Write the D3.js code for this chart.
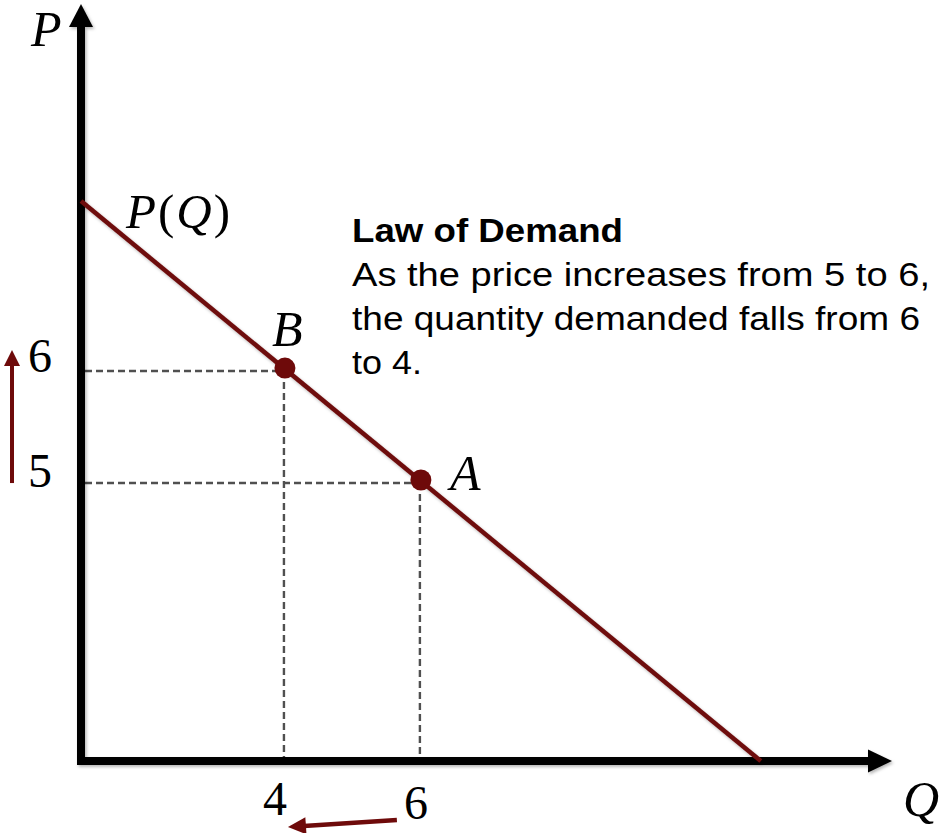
<!DOCTYPE html>
<html>
<head>
<meta charset="utf-8">
<script src="https://cdn.jsdelivr.net/npm/d3@7"></script>
<style>
  html, body { margin: 0; padding: 0; background: #fff; }
  svg { display: block; }
</style>
</head>
<body>
<script>
// ---------- DATA ----------
const demandQ = [1, 11];          // demand line endpoints (quantity)
const demandP = [7.5, 2.5];       // demand line endpoints (price)
const pointNames = ["B", "A"];
const pointQ = [4, 6];
const pointP = [6, 5];
const qTickLabels = ["4", "6"];
const qTickValues = [4, 6];
const pTickLabels = ["6", "5"];
const pTickValues = [6, 5];
const qExtent = [1, 12.93];       // axis extent (Q)
const pExtent = [2.5, 9.26];      // axis extent (P)
const noteTitle = "Law of Demand";
const noteLines = ["As the price increases from 5 to 6,", "the quantity demanded falls from 6", "to 4."];

// ---------- LAYOUT ----------
const W = 942, H = 833;
const red = "#6e0a0a";
const x = d3.scaleLinear().domain(qExtent).range([81, 892]);
const y = d3.scaleLinear().domain(pExtent).range([761, 4]);

const svg = d3.select("body").append("svg").attr("width", W).attr("height", H);
const defs = svg.append("defs");
const f = defs.append("filter").attr("id", "sh").attr("x", "-20%").attr("y", "-20%").attr("width", "140%").attr("height", "140%");
f.append("feDropShadow").attr("dx", 1.5).attr("dy", 2).attr("stdDeviation", 1.5)
  .attr("flood-color", "#000").attr("flood-opacity", 0.28);

const x0 = x(qExtent[0]), y0 = y(pExtent[0]);
const xEnd = x(qExtent[1]), yEnd = y(pExtent[1]);

// dashed guides
const guides = svg.append("g").attr("stroke", "#505050").attr("stroke-width", 2.4)
  .attr("stroke-dasharray", "7,4").attr("fill", "none");
pointQ.forEach((q, i) => {
  const p = pointP[i];
  guides.append("line").attr("x1", x0 + 4).attr("x2", x(q)).attr("y1", y(p) + 2).attr("y2", y(p) + 2);
  guides.append("line").attr("x1", x(q) - 1).attr("x2", x(q) - 1).attr("y1", y(p) + 2).attr("y2", y0 - 3);
});

// axes
const axes = svg.append("g").attr("filter", "url(#sh)");
axes.append("line").attr("x1", x0).attr("x2", x0).attr("y1", y0 + 4).attr("y2", yEnd + 22)
  .attr("stroke", "#000").attr("stroke-width", 8);
axes.append("path").attr("d", `M${x0 - 12},${yEnd + 23} L${x0 + 12},${yEnd + 23} L${x0},${yEnd} Z`).attr("fill", "#000");
axes.append("line").attr("x1", x0 - 4).attr("x2", xEnd - 22).attr("y1", y0).attr("y2", y0)
  .attr("stroke", "#000").attr("stroke-width", 8);
axes.append("path").attr("d", `M${xEnd - 24},${y0 - 11.5} L${xEnd - 24},${y0 + 11.5} L${xEnd},${y0} Z`).attr("fill", "#000");

// demand line
const line = d3.line().x(d => x(d[0])).y(d => y(d[1]));
svg.append("path").datum(demandQ.map((q, i) => [q, demandP[i]]))
  .attr("d", line).attr("stroke", red).attr("stroke-width", 4.5).attr("fill", "none")
  .attr("filter", "url(#sh)");

// points
svg.selectAll("circle.pt").data(pointQ).enter().append("circle")
  .attr("class", "pt")
  .attr("cx", (q) => x(q)).attr("cy", (q, i) => y(pointP[i]) - 1)
  .attr("r", 10.5).attr("fill", red);

// serif labels
const serif = "'Liberation Serif', 'DejaVu Serif', serif";
svg.append("text").attr("x", 31).attr("y", 46).attr("font-family", serif)
  .attr("font-style", "italic").attr("font-size", 50).text("P");
svg.append("text").attr("x", 903).attr("y", 816).attr("font-family", serif)
  .attr("font-style", "italic").attr("font-size", 50).text("Q");

const pq = svg.append("text").attr("x", 126).attr("y", 228).attr("font-family", serif).attr("font-size", 49)
  .attr("textLength", 104).attr("lengthAdjust", "spacing");
pq.append("tspan").attr("font-style", "italic").text("P");
pq.append("tspan").text("(");
pq.append("tspan").attr("font-style", "italic").text("Q");
pq.append("tspan").text(")");

// point labels
const labelDx = [-13, 29];
const labelDy = [-23, 9];
pointNames.forEach((n, i) => {
  svg.append("text").attr("x", x(pointQ[i]) + labelDx[i]).attr("y", y(pointP[i]) + labelDy[i])
    .attr("font-family", serif).attr("font-style", "italic").attr("font-size", 50).text(n);
});

// tick labels
pTickValues.forEach((p, i) => {
  svg.append("text").attr("x", 40).attr("y", y(p) + 3 + i * 3).attr("text-anchor", "middle")
    .attr("font-family", serif).attr("font-size", 48).text(pTickLabels[i]);
});
qTickValues.forEach((q, i) => {
  svg.append("text").attr("x", x(q) - 10 + i * 5).attr("y", 815 + i * 4).attr("text-anchor", "middle")
    .attr("font-family", serif).attr("font-size", 48).text(qTickLabels[i]);
});

// red movement arrows
// price arrow (5 -> 6)
const ax = 12, aBot = y(5) + 2, aTop = y(6) - 19;
svg.append("line").attr("x1", ax).attr("x2", ax).attr("y1", aBot).attr("y2", aTop + 14)
  .attr("stroke", red).attr("stroke-width", 4);
svg.append("path").attr("d", `M${ax - 8},${aTop + 16} L${ax + 8},${aTop + 16} L${ax},${aTop} Z`).attr("fill", red);
// quantity arrow (6 -> 4)
const qx1 = x(6) - 24, qy1 = 820, qx2 = x(4) + 3, qy2 = 827;
const ang = Math.atan2(qy2 - qy1, qx2 - qx1);
const hx = qx2 - 18 * Math.cos(ang), hy = qy2 - 18 * Math.sin(ang);
svg.append("line").attr("x1", qx1).attr("y1", qy1).attr("x2", hx + 2 * Math.cos(ang)).attr("y2", hy + 2 * Math.sin(ang))
  .attr("stroke", red).attr("stroke-width", 4.5);
const px = -Math.sin(ang), py = Math.cos(ang);
svg.append("path").attr("d",
  `M${hx + 8.5 * px},${hy + 8.5 * py} L${hx - 8.5 * px},${hy - 8.5 * py} L${qx2},${qy2} Z`).attr("fill", red);

// note text
const sans = "'Liberation Sans', Arial, sans-serif";
const noteX = 352;
const noteBase = [242, 286, 330, 374];
const noteWidths = [271, 578, 568, 70];
svg.append("text").attr("x", noteX).attr("y", noteBase[0]).attr("font-family", sans)
  .attr("font-weight", "bold").attr("font-size", 34)
  .attr("textLength", noteWidths[0]).attr("lengthAdjust", "spacingAndGlyphs").text(noteTitle);
noteLines.forEach((t, i) => {
  svg.append("text").attr("x", noteX).attr("y", noteBase[i + 1]).attr("font-family", sans)
    .attr("font-size", 34).attr("textLength", noteWidths[i + 1]).attr("lengthAdjust", "spacingAndGlyphs").text(t);
});
</script>
</body>
</html>
